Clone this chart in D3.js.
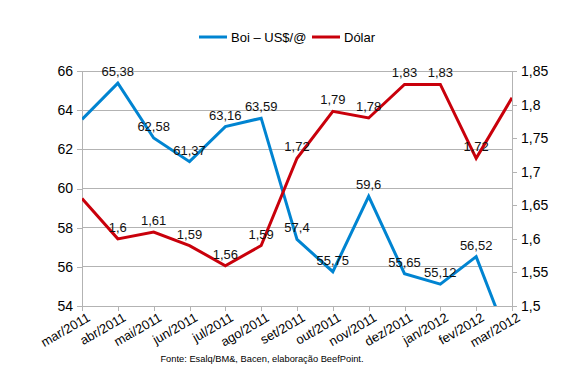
<!DOCTYPE html>
<html><head><meta charset="utf-8">
<script src="https://cdn.jsdelivr.net/npm/d3@7"></script>
<style>body{margin:0;background:#fff}svg{display:block;font-family:"Liberation Sans",Arial,sans-serif}</style>
</head><body>
<script>
const categories = ["mar/2011","abr/2011","mai/2011","jun/2011","jul/2011","ago/2011","set/2011","out/2011","nov/2011","dez/2011","jan/2012","fev/2012","mar/2012"];
const boi = [63.53,65.38,62.58,61.37,63.16,63.59,57.4,55.75,59.6,55.65,55.12,56.52,51.8];
const dolar = [1.66,1.6,1.61,1.59,1.56,1.59,1.72,1.79,1.78,1.83,1.83,1.72,1.81];
const boiLabels = [null,"65,38","62,58","61,37","63,16","63,59","57,4","55,75","59,6","55,65","55,12","56,52",null];
const dolarLabels = [null,"1,6","1,61","1,59","1,56","1,59","1,72","1,79","1,78","1,83","1,83","1,72",null];
const leftTicks = [54,56,58,60,62,64,66];
const rightTicks = [1.5,1.55,1.6,1.65,1.7,1.75,1.8,1.85];
const seriesNames = ["Boi – US$/@","Dólar"];
const colors = ["#0084d1","#c9000b"];

const W=570,H=379, L=82, R=512, T=71, B=306;
const svg=d3.select("body").append("svg").attr("width",W).attr("height",H);
const x=d3.scalePoint().domain(categories).range([L,R]);
const yL=d3.scaleLinear().domain([54,66]).range([B,T]);
const yR=d3.scaleLinear().domain([1.5,1.85]).range([B,T]);
const fmt=v=>String(v).replace(".",",");

// gridlines
svg.append("g").selectAll("line").data(leftTicks).join("line")
  .attr("x1",L).attr("x2",R).attr("y1",d=>yL(d)).attr("y2",d=>yL(d))
  .attr("stroke","#b3b3b3").attr("stroke-width",1).attr("shape-rendering","crispEdges");

// axes
const axL=svg.append("g").attr("transform",`translate(${L},0)`)
  .call(d3.axisLeft(yL).tickValues(leftTicks).tickFormat(fmt).tickSize(5).tickPadding(4));
const axR=svg.append("g").attr("transform",`translate(${R},0)`)
  .call(d3.axisRight(yR).tickValues(rightTicks).tickFormat(fmt).tickSize(5).tickPadding(4));
const axB=svg.append("g").attr("transform",`translate(0,${B})`)
  .call(d3.axisBottom(x).tickSize(5).tickPadding(4));
[axL,axR,axB].forEach(a=>{
  a.selectAll("path,line").attr("stroke","#b3b3b3").attr("shape-rendering","crispEdges");
  a.selectAll("text").attr("fill","#000").style("font-size","14px").style("font-family","Liberation Sans, Arial, sans-serif");
});
axB.selectAll("text").style("font-size","13px")
  .attr("text-anchor","end").attr("dy","0.3em")
  .attr("transform","translate(2,3) rotate(-30)");
axB.select(".domain").attr("d",`M${L},0H${R}`);

// clip
svg.append("clipPath").attr("id","clip").append("rect").attr("x",L).attr("y",T).attr("width",R-L).attr("height",B-T);

const lineL=d3.line().x((d,i)=>x(categories[i])).y(d=>yL(d));
const lineR=d3.line().x((d,i)=>x(categories[i])).y(d=>yR(d));
const g=svg.append("g").attr("clip-path","url(#clip)");
g.append("path").datum(boi).attr("d",lineL).attr("fill","none").attr("stroke",colors[0]).attr("stroke-width",3).attr("stroke-linejoin","miter");
g.append("path").datum(dolar).attr("d",lineR).attr("fill","none").attr("stroke",colors[1]).attr("stroke-width",3).attr("stroke-linejoin","miter");

// data labels
const lab=svg.append("g").style("font-size","13px").attr("fill","#111").attr("text-anchor","middle");
boi.forEach((v,i)=>{ if(boiLabels[i]) lab.append("text").attr("x",x(categories[i])).attr("y",yL(v)-7).text(boiLabels[i]); });
dolar.forEach((v,i)=>{ if(dolarLabels[i]) lab.append("text").attr("x",x(categories[i])).attr("y",yR(v)-7).text(dolarLabels[i]); });

// legend
const leg=svg.append("g").style("font-size","13px");
const legX=[199,312];
seriesNames.forEach((n,i)=>{
  leg.append("line").attr("x1",legX[i]).attr("x2",legX[i]+28).attr("y1",37).attr("y2",37).attr("stroke",colors[i]).attr("stroke-width",3);
  leg.append("text").attr("x",legX[i]+32).attr("y",37).attr("dy","0.35em").attr("fill","#000").text(n);
});

// source
svg.append("text").attr("x",262).attr("y",362).attr("text-anchor","middle").style("font-size","9.3px").attr("fill","#000")
  .text("Fonte: Esalq/BM&, Bacen, elaboração BeefPoint.");
</script>
</body></html>
